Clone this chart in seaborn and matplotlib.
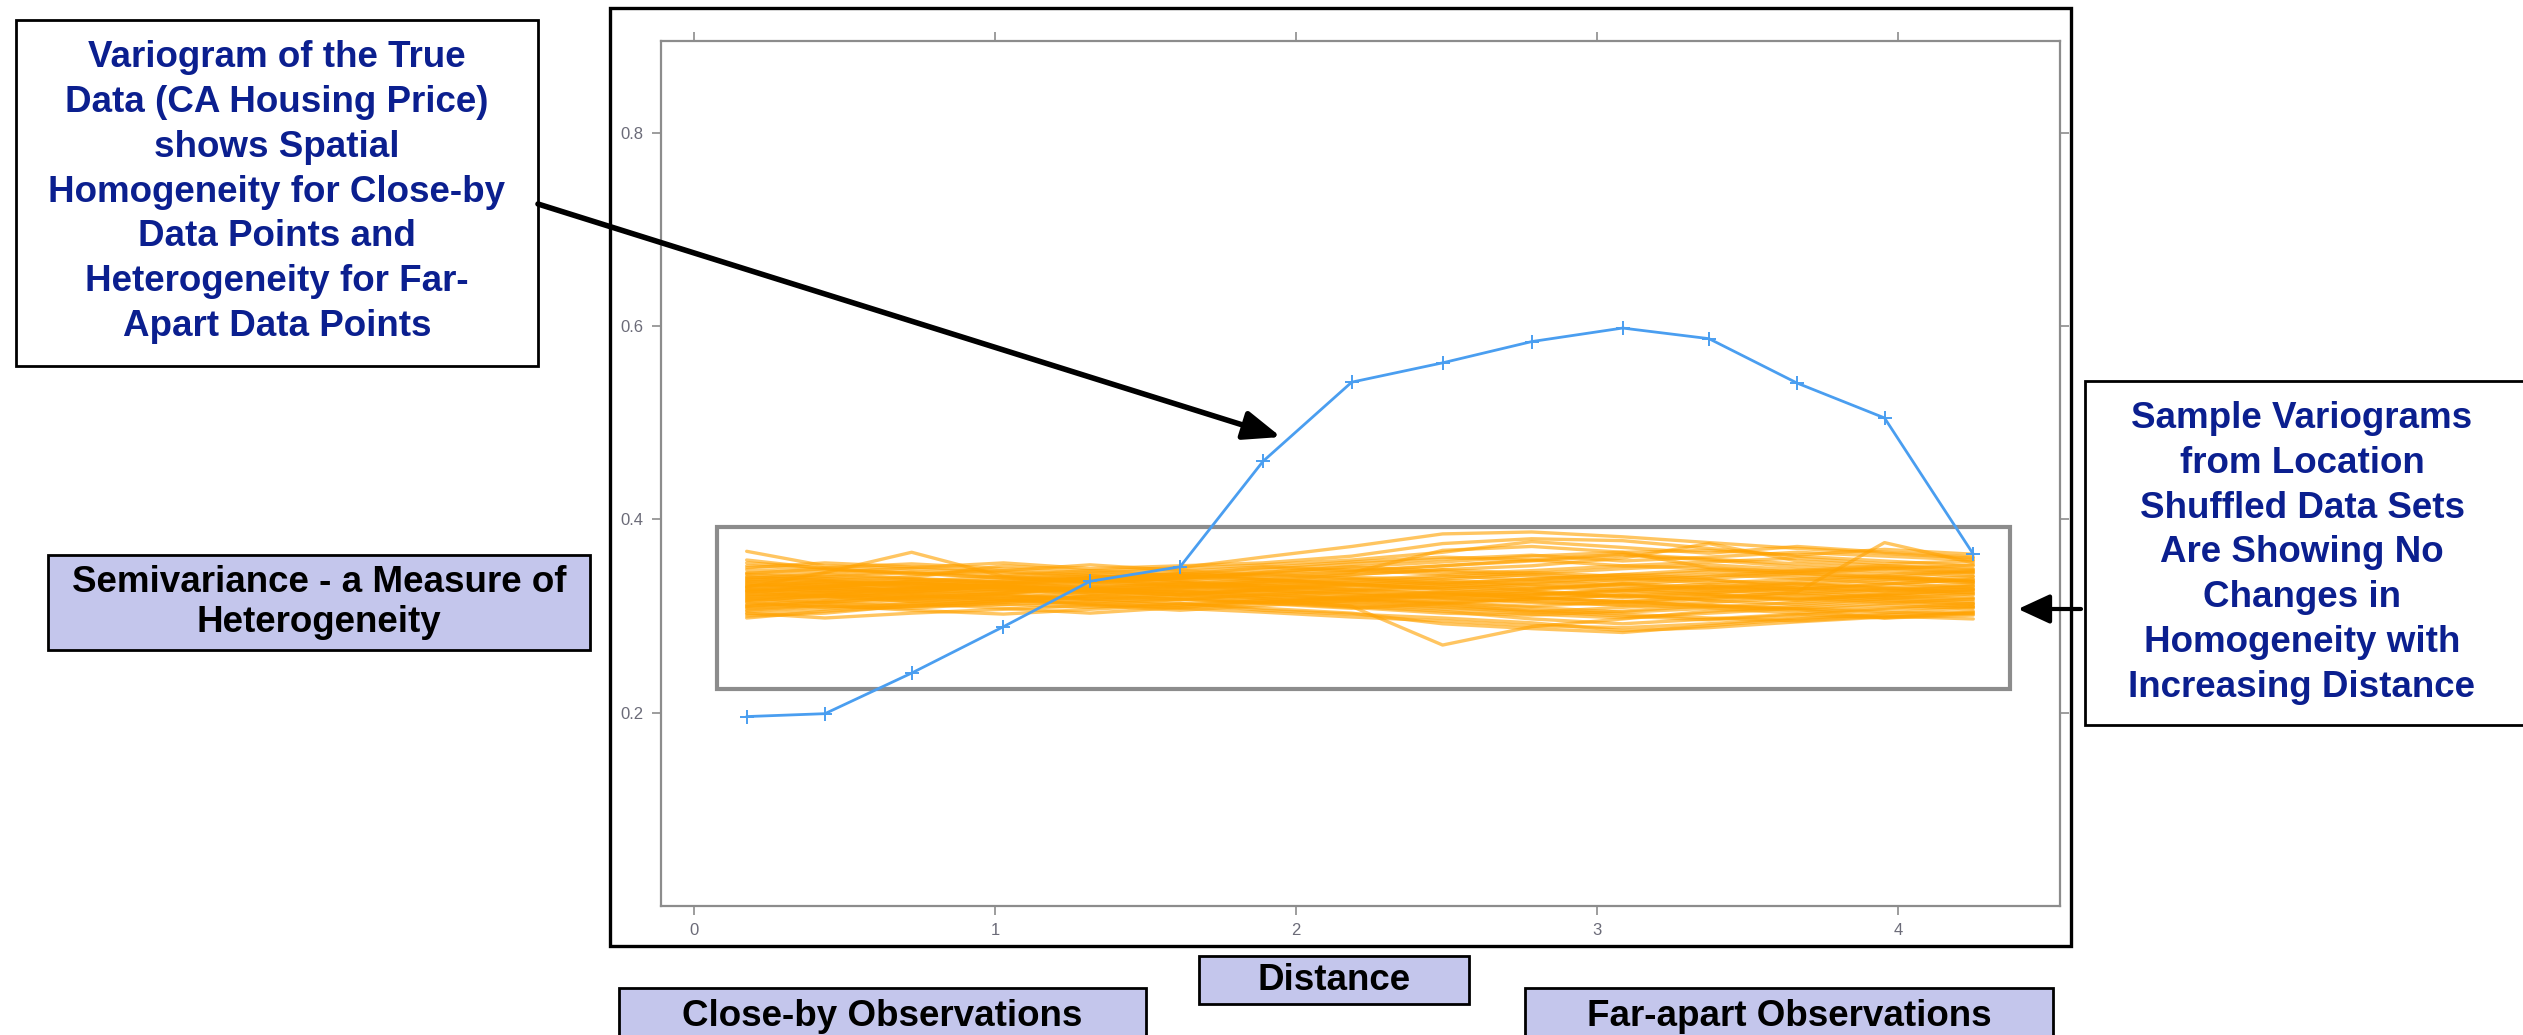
import numpy as np
import pandas as pd
import matplotlib
matplotlib.use("Agg")
import matplotlib.pyplot as plt
from matplotlib.patches import Rectangle, FancyArrowPatch, ArrowStyle
import seaborn as sns

# ---------------- data ----------------
distance = [0.175, 0.435, 0.723, 1.028, 1.316, 1.615, 1.890, 2.185, 2.487, 2.783,
            3.085, 3.372, 3.665, 3.955, 4.250]
true_semivariance = [0.196, 0.199, 0.241, 0.289, 0.336, 0.351, 0.460, 0.542, 0.562, 0.584,
                     0.598, 0.587, 0.541, 0.505, 0.364]

shuffled_semivariance = [
    [0.367, 0.352, 0.349, 0.345, 0.340, 0.343, 0.350, 0.356, 0.361, 0.358, 0.352, 0.349, 0.346, 0.350, 0.345],
    [0.298, 0.305, 0.310, 0.312, 0.315, 0.318, 0.314, 0.309, 0.303, 0.301, 0.305, 0.311, 0.308, 0.304, 0.302],
    [0.330, 0.345, 0.366, 0.341, 0.338, 0.332, 0.329, 0.335, 0.331, 0.327, 0.333, 0.338, 0.329, 0.325, 0.331],
    [0.321, 0.318, 0.325, 0.331, 0.327, 0.322, 0.318, 0.310, 0.270, 0.289, 0.297, 0.305, 0.310, 0.316, 0.312],
    [0.335, 0.338, 0.340, 0.352, 0.347, 0.350, 0.361, 0.372, 0.385, 0.387, 0.382, 0.376, 0.370, 0.365, 0.360],
    [0.312, 0.320, 0.322, 0.318, 0.325, 0.330, 0.336, 0.343, 0.348, 0.352, 0.360, 0.375, 0.357, 0.352, 0.349],
    [0.340, 0.336, 0.331, 0.329, 0.333, 0.330, 0.326, 0.322, 0.318, 0.314, 0.312, 0.318, 0.325, 0.376, 0.355],
    [0.305, 0.310, 0.308, 0.314, 0.320, 0.317, 0.322, 0.326, 0.330, 0.335, 0.340, 0.337, 0.333, 0.329, 0.327],
    [0.325, 0.329, 0.327, 0.333, 0.337, 0.335, 0.330, 0.327, 0.323, 0.319, 0.315, 0.311, 0.307, 0.298, 0.303],
    [0.348, 0.345, 0.350, 0.355, 0.349, 0.352, 0.355, 0.362, 0.375, 0.380, 0.378, 0.370, 0.362, 0.357, 0.352],
    [0.318, 0.314, 0.320, 0.323, 0.328, 0.325, 0.320, 0.316, 0.312, 0.305, 0.300, 0.296, 0.301, 0.307, 0.310],
    [0.332, 0.328, 0.334, 0.330, 0.326, 0.331, 0.335, 0.340, 0.338, 0.343, 0.339, 0.334, 0.338, 0.342, 0.336],
    [0.300, 0.303, 0.311, 0.316, 0.312, 0.308, 0.304, 0.299, 0.295, 0.290, 0.288, 0.292, 0.298, 0.301, 0.305],
    [0.352, 0.348, 0.343, 0.347, 0.353, 0.347, 0.342, 0.346, 0.352, 0.357, 0.363, 0.358, 0.351, 0.346, 0.341],
    [0.327, 0.333, 0.338, 0.335, 0.329, 0.324, 0.328, 0.333, 0.327, 0.322, 0.326, 0.331, 0.327, 0.321, 0.325],
    [0.310, 0.315, 0.319, 0.324, 0.330, 0.335, 0.331, 0.327, 0.333, 0.338, 0.343, 0.348, 0.344, 0.340, 0.346],
    [0.343, 0.339, 0.334, 0.330, 0.326, 0.322, 0.318, 0.315, 0.310, 0.306, 0.302, 0.298, 0.295, 0.300, 0.297],
    [0.320, 0.326, 0.330, 0.327, 0.333, 0.339, 0.345, 0.351, 0.356, 0.362, 0.366, 0.368, 0.363, 0.369, 0.364],
    [0.336, 0.332, 0.325, 0.321, 0.317, 0.321, 0.325, 0.319, 0.314, 0.318, 0.322, 0.316, 0.312, 0.318, 0.323],
    [0.308, 0.312, 0.317, 0.321, 0.318, 0.323, 0.327, 0.324, 0.319, 0.315, 0.311, 0.309, 0.314, 0.320, 0.317],
    [0.358, 0.349, 0.345, 0.339, 0.336, 0.340, 0.344, 0.348, 0.343, 0.347, 0.352, 0.356, 0.360, 0.354, 0.357],
    [0.323, 0.321, 0.316, 0.312, 0.309, 0.313, 0.306, 0.302, 0.298, 0.293, 0.285, 0.288, 0.294, 0.299, 0.304],
    [0.315, 0.322, 0.328, 0.332, 0.336, 0.342, 0.348, 0.354, 0.359, 0.363, 0.357, 0.361, 0.366, 0.362, 0.358],
    [0.329, 0.326, 0.322, 0.326, 0.330, 0.327, 0.332, 0.328, 0.324, 0.329, 0.334, 0.330, 0.325, 0.329, 0.333],
    [0.345, 0.341, 0.338, 0.334, 0.339, 0.344, 0.338, 0.333, 0.329, 0.325, 0.320, 0.324, 0.328, 0.333, 0.338],
    [0.303, 0.298, 0.303, 0.307, 0.311, 0.306, 0.311, 0.316, 0.321, 0.326, 0.321, 0.317, 0.322, 0.327, 0.322],
    [0.337, 0.341, 0.346, 0.342, 0.347, 0.342, 0.338, 0.343, 0.348, 0.344, 0.349, 0.353, 0.348, 0.343, 0.347],
    [0.317, 0.323, 0.319, 0.315, 0.321, 0.326, 0.321, 0.317, 0.313, 0.318, 0.314, 0.320, 0.324, 0.319, 0.315],
    [0.331, 0.335, 0.330, 0.336, 0.341, 0.336, 0.331, 0.337, 0.342, 0.337, 0.332, 0.327, 0.332, 0.337, 0.341],
    [0.314, 0.309, 0.313, 0.318, 0.313, 0.309, 0.314, 0.319, 0.324, 0.319, 0.315, 0.310, 0.306, 0.311, 0.308],
    [0.339, 0.344, 0.339, 0.335, 0.340, 0.346, 0.351, 0.347, 0.352, 0.358, 0.364, 0.359, 0.354, 0.349, 0.344],
    [0.326, 0.320, 0.315, 0.320, 0.316, 0.311, 0.316, 0.312, 0.307, 0.302, 0.298, 0.303, 0.308, 0.313, 0.318],
    [0.350, 0.355, 0.351, 0.346, 0.342, 0.337, 0.343, 0.339, 0.334, 0.338, 0.343, 0.339, 0.344, 0.349, 0.353],
    [0.306, 0.311, 0.306, 0.302, 0.307, 0.312, 0.318, 0.313, 0.309, 0.304, 0.309, 0.314, 0.319, 0.314, 0.310],
    [0.334, 0.330, 0.336, 0.331, 0.327, 0.333, 0.338, 0.334, 0.340, 0.345, 0.341, 0.346, 0.342, 0.338, 0.334],
    [0.322, 0.327, 0.323, 0.328, 0.324, 0.319, 0.314, 0.320, 0.325, 0.321, 0.326, 0.322, 0.317, 0.322, 0.328],
    [0.341, 0.337, 0.333, 0.338, 0.344, 0.339, 0.345, 0.351, 0.346, 0.341, 0.336, 0.341, 0.347, 0.352, 0.348],
    [0.311, 0.316, 0.321, 0.317, 0.312, 0.317, 0.313, 0.308, 0.313, 0.309, 0.304, 0.308, 0.303, 0.308, 0.313],
    [0.328, 0.324, 0.329, 0.334, 0.339, 0.344, 0.340, 0.345, 0.368, 0.372, 0.366, 0.350, 0.345, 0.340, 0.336],
    [0.319, 0.324, 0.318, 0.323, 0.318, 0.313, 0.308, 0.303, 0.292, 0.287, 0.283, 0.290, 0.297, 0.303, 0.309],
    [0.333, 0.329, 0.325, 0.331, 0.336, 0.331, 0.327, 0.332, 0.328, 0.333, 0.329, 0.324, 0.330, 0.326, 0.331],
    [0.324, 0.330, 0.335, 0.330, 0.325, 0.329, 0.334, 0.330, 0.335, 0.331, 0.326, 0.330, 0.335, 0.340, 0.335],
    [0.338, 0.333, 0.328, 0.324, 0.329, 0.334, 0.329, 0.325, 0.320, 0.324, 0.319, 0.323, 0.318, 0.323, 0.327],
    [0.316, 0.321, 0.326, 0.331, 0.327, 0.322, 0.327, 0.322, 0.317, 0.322, 0.328, 0.333, 0.328, 0.333, 0.338],
    [0.344, 0.349, 0.344, 0.340, 0.335, 0.339, 0.334, 0.338, 0.333, 0.328, 0.333, 0.328, 0.334, 0.329, 0.324],
    [0.309, 0.314, 0.310, 0.316, 0.321, 0.317, 0.322, 0.318, 0.314, 0.310, 0.315, 0.321, 0.316, 0.322, 0.319],
    [0.330, 0.336, 0.332, 0.327, 0.322, 0.327, 0.323, 0.318, 0.322, 0.317, 0.322, 0.327, 0.322, 0.317, 0.313],
    [0.355, 0.350, 0.354, 0.349, 0.344, 0.349, 0.353, 0.358, 0.366, 0.377, 0.371, 0.365, 0.372, 0.366, 0.361],
    [0.326, 0.331, 0.336, 0.341, 0.336, 0.341, 0.337, 0.332, 0.337, 0.333, 0.338, 0.343, 0.339, 0.334, 0.329],
    [0.302, 0.307, 0.313, 0.308, 0.303, 0.309, 0.315, 0.310, 0.305, 0.297, 0.292, 0.297, 0.302, 0.298, 0.301],
]

x_ticks = [0, 1, 2, 3, 4]
y_ticks = [0.2, 0.4, 0.6, 0.8]
y_tick_labels = ["0.2", "0.4", "0.6", "0.8"]

note_true = ("Variogram of the True\nData (CA Housing Price)\nshows Spatial\n"
             "Homogeneity for Close-by\nData Points and\nHeterogeneity for Far-\nApart Data Points")
note_shuffled = ("Sample Variograms\nfrom Location\nShuffled Data Sets\nAre Showing No\n"
                 "Changes in\nHomogeneity with\nIncreasing Distance")
label_semivar = "Semivariance - a Measure of\nHeterogeneity"
label_distance = "Distance"
label_close = "Close-by Observations"
label_far = "Far-apart Observations"

# ---------------- figure ----------------
sns.set_theme(style="white")
plt.rcParams["font.family"] = ["Liberation Sans", "DejaVu Sans"]

W, H = 2523, 1035
fig = plt.figure(figsize=(W / 100, H / 100), dpi=100)
fig.patch.set_facecolor("white")


def fx(x):
    return x / W


def fy(y):
    return 1 - y / H


ax_l, ax_r, ax_t, ax_b = 661, 2060, 41, 906
ax = fig.add_axes([fx(ax_l), fy(ax_b), (ax_r - ax_l) / W, (ax_b - ax_t) / H])

long_df = pd.DataFrame(
    [(k, d, v) for k, row in enumerate(shuffled_semivariance) for d, v in zip(distance, row)],
    columns=["sim", "distance", "gamma"],
)
sns.lineplot(data=long_df, x="distance", y="gamma", units="sim", estimator=None,
             color="#FFA200", alpha=0.62, lw=2.4, ax=ax, legend=False, zorder=2)

ax.add_patch(Rectangle((0.076, 0.225), 4.371 - 0.076, 0.392 - 0.225, fill=False,
                       edgecolor="#8C8C8C", lw=3.0, zorder=3))

sns.lineplot(x=distance, y=true_semivariance, color="#4A9EF0", lw=2.0, marker="+",
             markersize=10, markeredgewidth=1.4, markeredgecolor="#4A9EF0", ax=ax,
             zorder=5, legend=False)

ax.set_xlim(-0.1096, 4.538)
ax.set_ylim(0.0, 0.895)
ax.set_xticks(x_ticks)
ax.set_xticklabels([str(t) for t in x_ticks])
ax.set_yticks(y_ticks)
ax.set_yticklabels(y_tick_labels)
ax.set_xlabel("")
ax.set_ylabel("")
for s in ax.spines.values():
    s.set_color("#8C8C8C")
    s.set_linewidth(1.6)
    s.set_visible(True)
ax.tick_params(which="both", top=True, right=True, bottom=True, left=True,
               labeltop=False, labelright=False, direction="out", length=6.5,
               width=1.2, color="#8C8C8C", labelcolor="#6B6B78", labelsize=12, pad=6)
ax.grid(False)

# outer black frame
fig.add_artist(Rectangle((fx(610), fy(946)), (2071 - 610) / W, (946 - 8) / H,
                         transform=fig.transFigure, fill=False, edgecolor="black", lw=2.4))

BLUE = "#0B1F8F"
FS = 26.5


def boxed(x0, y0, x1, y1, text, fill, color, cx=None, cy=None, lw=2.0, ls=1.37):
    fig.add_artist(Rectangle((fx(x0), fy(y1)), (x1 - x0) / W, (y1 - y0) / H,
                             transform=fig.transFigure, facecolor=fill,
                             edgecolor="black", lw=lw, zorder=4))
    cx = (x0 + x1) / 2 if cx is None else cx
    cy = (y0 + y1) / 2 if cy is None else cy
    fig.text(fx(cx), fy(cy), text, ha="center", va="center", multialignment="center",
             fontsize=FS, fontweight="bold", color=color, linespacing=ls, zorder=5)


boxed(16, 20, 538, 366, note_true, "white", BLUE, cy=192)
boxed(2085, 381, 2540, 725, note_shuffled, "white", BLUE, cx=2302, cy=553)
boxed(48, 555, 590, 650, label_semivar, "#C4C6EC", "black", ls=1.18)
boxed(1199, 956, 1469, 1004, label_distance, "#C4C6EC", "black")
boxed(619, 988, 1146, 1045, label_close, "#C4C6EC", "black", cy=1016)
boxed(1525, 988, 2053, 1045, label_far, "#C4C6EC", "black", cy=1016)

# arrows
a1 = FancyArrowPatch((fx(538), fy(204)), (fx(1281), fy(437)), transform=fig.transFigure,
                     arrowstyle=ArrowStyle("-|>", head_length=1.4, head_width=0.55),
                     mutation_scale=16, lw=4, color="black", shrinkA=0, shrinkB=0, zorder=6)
fig.add_artist(a1)
a2 = FancyArrowPatch((fx(2081), fy(609)), (fx(2018), fy(609)), transform=fig.transFigure,
                     arrowstyle=ArrowStyle("-|>", head_length=1.3, head_width=0.6),
                     mutation_scale=15, lw=3, color="black", shrinkA=0, shrinkB=0, zorder=6)
fig.add_artist(a2)

fig.savefig("out.png", dpi=100)
